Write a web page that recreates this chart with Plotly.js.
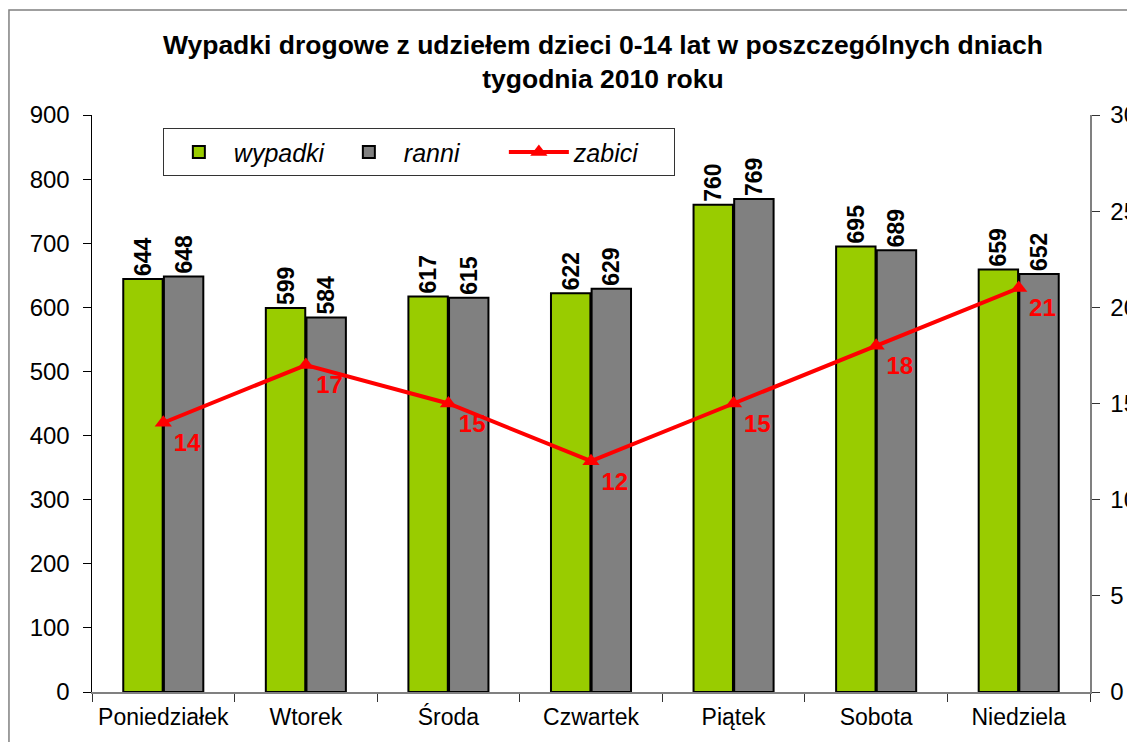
<!DOCTYPE html>
<html>
<head>
<meta charset="utf-8">
<script src="https://cdn.plot.ly/plotly-3.0.1.min.js"></script>
<style>html,body{margin:0;padding:0;background:#fff;}#chart{width:1127px;height:742px;}</style>
</head>
<body>
<div id="chart"></div>
<script>
const days = ["Poniedziałek", "Wtorek", "Środa", "Czwartek", "Piątek", "Sobota", "Niedziela"];
const wypadki = [644, 599, 617, 622, 760, 695, 659];
const ranni = [648, 584, 615, 629, 769, 689, 652];
const zabici = [14, 17, 15, 12, 15, 18, 21];

const FONT = "Liberation Sans, Arial, sans-serif";
const barText = {family: FONT, size: 23, color: "#000", weight: "bold"};

const traces = [
  {
    type: "bar", name: "wypadki", x: days, y: wypadki,
    marker: {color: "#99CC00", line: {color: "#000", width: 2}},
    text: wypadki.map(String), textposition: "outside", textangle: -90,
    textfont: barText, cliponaxis: false
  },
  {
    type: "bar", name: "ranni", x: days, y: ranni,
    marker: {color: "#808080", line: {color: "#000", width: 2}},
    text: ranni.map(String), textposition: "outside", textangle: -90,
    textfont: barText, cliponaxis: false
  },
  {
    type: "scatter", mode: "lines+markers+text", name: "zabici", x: days, y: zabici,
    yaxis: "y2",
    line: {color: "#FF0000", width: 4},
    marker: {symbol: "triangle-up", size: 15, color: "#FF0000"},
    text: zabici.map(String), textposition: "bottom right",
    textfont: {family: FONT, size: 24, color: "#FF0000", weight: "bold"},
    cliponaxis: false
  }
];

const layout = {
  width: 1127, height: 742,
  margin: {l: 92, r: 37, t: 115, b: 50},
  paper_bgcolor: "#fff", plot_bgcolor: "#fff",
  font: {family: FONT, size: 24, color: "#000"},
  title: {
    text: "<b>Wypadki drogowe z udziełem dzieci 0-14 lat w poszczególnych dniach<br>tygodnia 2010 roku</b>",
    font: {family: FONT, size: 26.5, color: "#000"},
    x: 0.512, xref: "paper", xanchor: "center",
    y: 1 - 54 / 742, yref: "container", yanchor: "middle"
  },
  barmode: "group", bargap: 0.43, bargroupgap: 0.03,
  showlegend: true,
  legend: {
    orientation: "h", x: 0.071, y: 0.977, xanchor: "left", yanchor: "top",
    bordercolor: "#333", borderwidth: 1, bgcolor: "rgba(255,255,255,0)",
    font: {family: FONT, size: 25, style: "italic", color: "#000"},
    traceorder: "normal", itemwidth: 60, entrywidth: 95
  },
  xaxis: {
    type: "category", showline: true, linecolor: "#808080", linewidth: 1.5,
    ticks: "outside", tickson: "boundaries", ticklen: 8, tickcolor: "#333",
    showgrid: false, tickfont: {family: FONT, size: 23}, tickangle: 0, ticklabelstandoff: 4
  },
  yaxis: {
    range: [0, 900], dtick: 100, showline: true, linecolor: "#000", linewidth: 1.5,
    ticks: "outside", ticklen: 8, tickcolor: "#000", showgrid: false, zeroline: false,
    tickfont: {family: FONT, size: 24}, ticklabelstandoff: 8
  },
  yaxis2: {
    range: [0, 30], dtick: 5, overlaying: "y", side: "right",
    showline: true, linecolor: "#808080", linewidth: 1.5,
    ticks: "outside", ticklen: 8, tickcolor: "#333", showgrid: false, zeroline: false,
    tickfont: {family: FONT, size: 24}, ticklabelstandoff: 6
  },
  shapes: [{
    type: "rect", xref: "paper", yref: "paper",
    x0: -0.0832, x1: 1.3, y0: -0.3, y1: 1.182,
    line: {color: "#808080", width: 1.5}, fillcolor: "rgba(0,0,0,0)", layer: "below"
  }]
};

Plotly.newPlot("chart", traces, layout, {displayModeBar: false, staticPlot: true});
</script>
</body>
</html>
